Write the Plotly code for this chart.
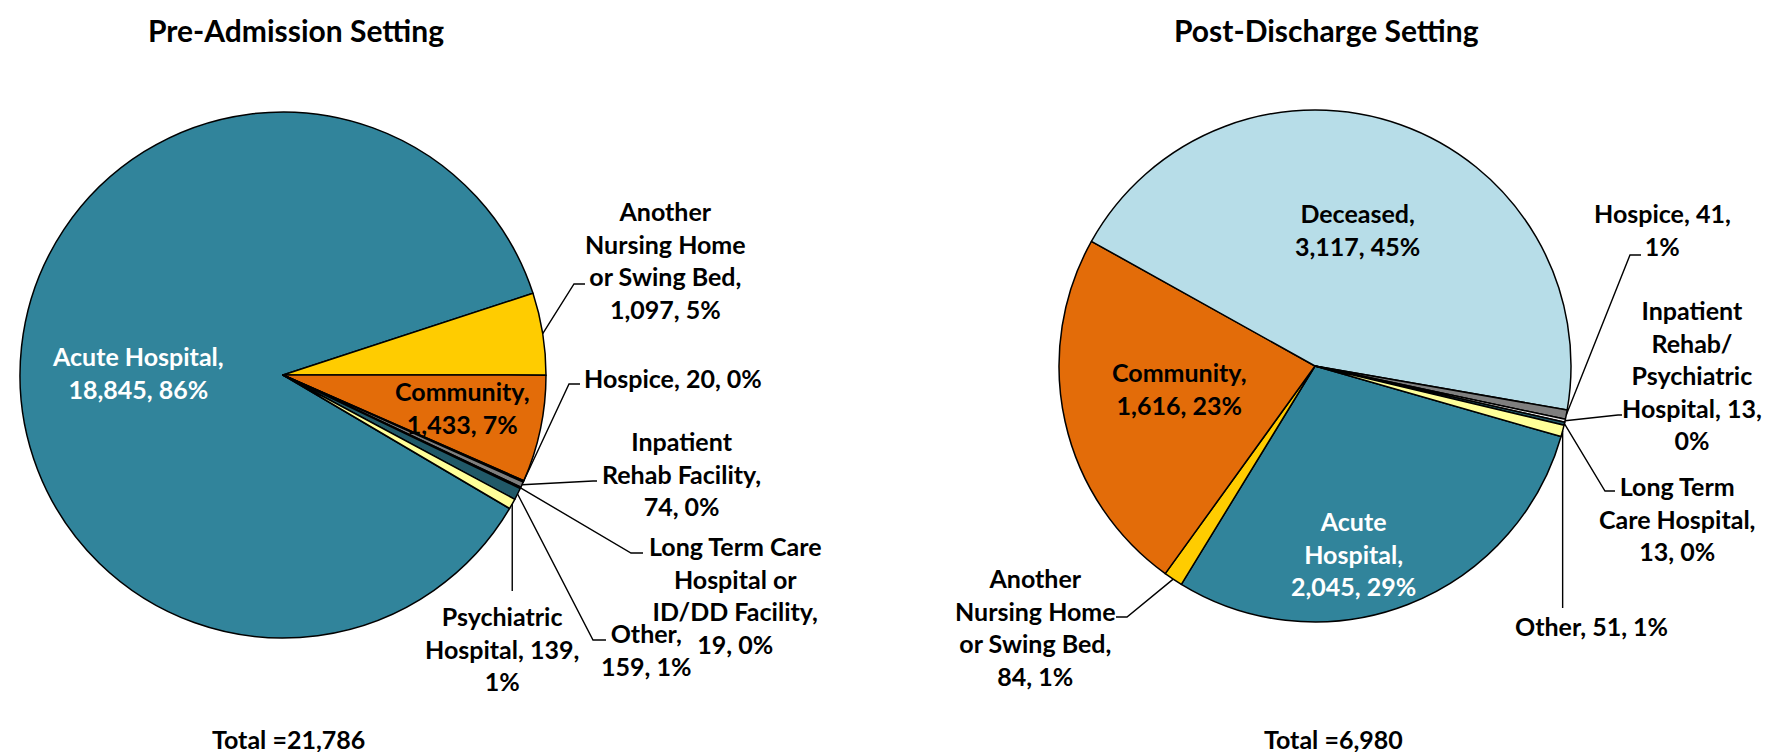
import math
import plotly.graph_objects as go

W, H = 1770, 752

# ---- data ----
pre_labels = ["Acute Hospital", "Another Nursing Home or Swing Bed", "Community", "Hospice",
              "Inpatient Rehab Facility", "Long Term Care Hospital or ID/DD Facility",
              "Other", "Psychiatric Hospital"]
pre_values = [18845, 1097, 1433, 20, 74, 19, 159, 139]
pre_pct = [86, 5, 7, 0, 0, 0, 1, 1]

post_labels = ["Acute Hospital", "Another Nursing Home or Swing Bed", "Community", "Deceased",
               "Hospice", "Inpatient Rehab/Psychiatric Hospital", "Long Term Care Hospital", "Other"]
post_values = [2045, 84, 1616, 3117, 41, 13, 13, 51]
post_pct = [29, 1, 23, 45, 1, 0, 0, 1]

# how each data label wraps in the original
pre_wrap = ["Acute Hospital,<br>{v}, {p}%",
            "Another<br>Nursing Home<br>or Swing Bed,<br>{v}, {p}%",
            "Community,<br>{v}, {p}%",
            "Hospice, {v}, {p}%",
            "Inpatient<br>Rehab Facility,<br>{v}, {p}%",
            "Long Term Care<br>Hospital or<br>ID/DD Facility,<br>{v}, {p}%",
            "Other,<br>{v}, {p}%",
            "Psychiatric<br>Hospital, {v},<br>{p}%"]
post_wrap = ["Acute<br>Hospital,<br>{v}, {p}%",
             "Another<br>Nursing Home<br>or Swing Bed,<br>{v}, {p}%",
             "Community,<br>{v}, {p}%",
             "Deceased,<br>{v}, {p}%",
             "Hospice, {v},<br>{p}%",
             "Inpatient<br>Rehab/<br>Psychiatric<br>Hospital, {v},<br>{p}%",
             "Long Term<br>Care Hospital,<br>{v}, {p}%",
             "Other, {v}, {p}%"]

pre_colors = ["#31849b", "#ffcc00", "#e36c09", "#595959", "#7f7f7f", "#262626", "#215968", "#ffff99"]
post_colors = ["#31849b", "#ffcc00", "#e36c09", "#b7dde8", "#7f7f7f", "#eeeeee", "#215968", "#ffff99"]

FONT = "Lato, 'Open Sans', sans-serif"


def px(x):
    return x / W


def py(y):
    return 1 - y / H


# pie geometry in pixels: centre x, centre y, radius, rotation
pre_geo = (275, 367, 263, 120.5)
post_geo = (1307, 358, 256, 106)


def domain(cx, cy, r):
    return dict(x=[px(cx - r), px(cx + r)], y=[py(cy + r), py(cy - r)])


def edge_point(geo, values, i):
    cx, cy, r, rot = geo
    mid = sum(values[:i]) + values[i] / 2
    a = math.radians(rot + 360 * mid / sum(values))
    return cx + r * math.sin(a), cy - r * math.cos(a)


# label placement: centre x, centre y, colour, leader elbow points
pre_place = [(130, 364, "white", None),
             (657, 252, "black", [(566, 276), (577, 276)]),
             (454, 399, "black", None),
             (665, 370, "black", [(561, 376), (572, 376)]),
             (673, 465, "black", [(585, 473), (589, 473)]),
             (727, 587, "black", [(623, 545), (635, 545)]),
             (638, 641, "black", [(585, 632), (598, 632)]),
             (494, 640, "black", [(None, 583)])]
post_place = [(1345, 545, "white", None),
              (1027, 619, "black", [(1119, 609), (1108, 609)]),
              (1171, 380, "black", None),
              (1349, 221, "black", None),
              (1654, 221, "black", [(1622, 247), (1633, 247)]),
              (1684, 367, "black", [(1610, 407), (1614, 407)]),
              (1669, 510, "black", [(1597, 483), (1607, 483)]),
              (1583, 618, "black", [(None, 600)])]

fig = go.Figure()
charts = [
    ("Pre-Admission Setting", pre_labels, pre_values, pre_pct, pre_wrap, pre_colors, pre_geo, pre_place, (288, 22), (280, 731)),
    ("Post-Discharge Setting", post_labels, post_values, post_pct, post_wrap, post_colors, post_geo, post_place, (1318, 22), (1325, 731)),
]

annotations = []
shapes = []
for title, labels, values, pct, wrap, colors, geo, place, tpos, totpos in charts:
    fig.add_trace(go.Pie(
        labels=labels, values=values, sort=False, direction="clockwise",
        rotation=geo[3], domain=domain(*geo[:3]),
        marker=dict(colors=colors, line=dict(color="black", width=1.5)),
        textinfo="none", hoverinfo="label+value+percent", showlegend=False,
    ))
    for i, (x, y, col, elbow) in enumerate(place):
        txt = wrap[i].format(v=f"{values[i]:,}", p=pct[i])
        annotations.append(dict(x=px(x), y=py(y), xref="paper", yref="paper", text=txt,
                                showarrow=False, xanchor="center", yanchor="middle", align="center",
                                font=dict(family=FONT, size=25, color=col, weight="bold")))
        if elbow:
            sx, sy = edge_point(geo, values, i)
            pts = [(sx, sy)] + [(sx if ex is None else ex, ey) for ex, ey in elbow]
            path = "M " + " L ".join(f"{px(a):.5f},{py(b):.5f}" for a, b in pts)
            shapes.append(dict(type="path", path=path, xref="paper", yref="paper",
                               line=dict(color="black", width=1.4)))
    annotations.append(dict(x=px(tpos[0]), y=py(tpos[1]), xref="paper", yref="paper", text=title,
                            showarrow=False, xanchor="center", yanchor="middle",
                            font=dict(family=FONT, size=30, color="black", weight="bold")))
    annotations.append(dict(x=px(totpos[0]), y=py(totpos[1]), xref="paper", yref="paper",
                            text=f"Total ={sum(values):,}", showarrow=False,
                            xanchor="center", yanchor="middle",
                            font=dict(family=FONT, size=25, color="black", weight="bold")))

fig.update_layout(width=W, height=H, margin=dict(l=0, r=0, t=0, b=0),
                  paper_bgcolor="white", plot_bgcolor="white",
                  annotations=annotations, shapes=shapes)
fig.write_html("out.html")
